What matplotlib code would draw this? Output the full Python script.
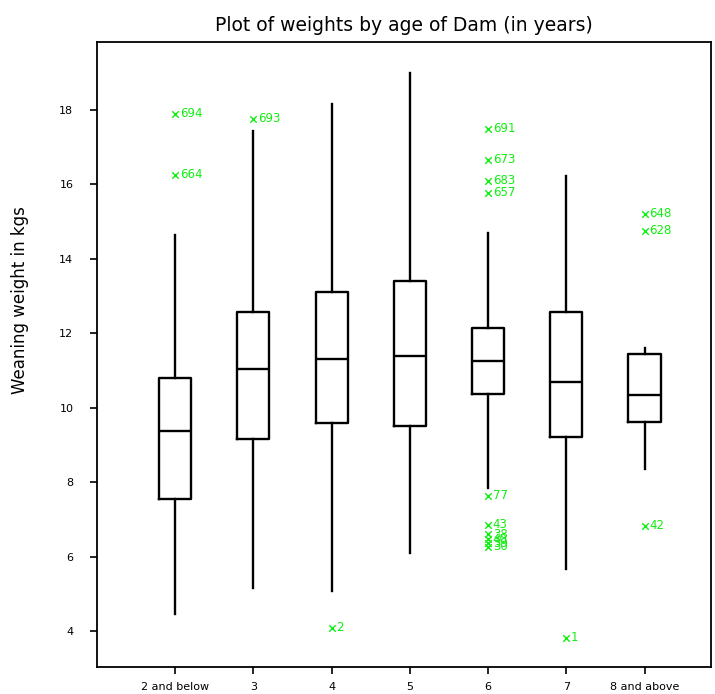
import matplotlib
matplotlib.use("Agg")
import matplotlib.pyplot as plt

# age of dam groups
groups = ["2 and below", "3", "4", "5", "6", "7", "8 and above"]

# box stats (kg)
whislo = [4.46, 5.16, 5.08, 6.10, 7.85, 5.67, 8.36]
q1 = [7.55, 9.17, 9.58, 9.52, 10.38, 9.22, 9.62]
med = [9.38, 11.05, 11.30, 11.40, 11.26, 10.70, 10.35]
q3 = [10.81, 12.58, 13.10, 13.41, 12.15, 12.56, 11.45]
whishi = [14.65, 17.45, 18.17, 19.00, 14.70, 16.24, 11.61]

# labelled outliers: group index, value, observation id
out_group = [1, 1, 2, 3, 5, 5, 5, 5, 5, 5, 5, 5, 5, 5, 6, 7, 7, 7]
out_value = [17.90, 16.26, 17.77, 4.09, 17.50, 16.67, 16.10, 15.78, 7.63,
             6.85, 6.60, 6.46, 6.36, 6.26, 3.82, 15.22, 14.76, 6.83]
out_label = ["694", "664", "693", "2", "691", "673", "683", "657", "77",
             "43", "38", "40", "39", "30", "1", "648", "628", "42"]

stats = []
for i in range(len(groups)):
    stats.append({"whislo": whislo[i], "q1": q1[i], "med": med[i],
                  "q3": q3[i], "whishi": whishi[i], "fliers": []})

fig = plt.figure(figsize=(7.15, 6.94), dpi=100)
ax = fig.add_axes([97/715, 1 - 667/694, (711-97)/715, (667-42)/694])

black = dict(color="black", linewidth=1.7)
ax.bxp(stats, positions=range(1, len(groups) + 1), widths=0.41,
       showfliers=False, showcaps=False,
       boxprops=black, medianprops=black, whiskerprops=black)

green = "#11ee11"
ax.scatter(out_group, out_value, marker="x", s=22, color=green, linewidths=1.0, zorder=3)
for g, v, lab in zip(out_group, out_value, out_label):
    ax.text(g + 0.06, v, lab, color=green, fontsize=8.5, va="center", ha="left")

ax.set_xlim(0, 7.85)
ax.set_ylim(3.03, 19.83)
ax.set_xticks(range(1, len(groups) + 1))
ax.set_xticklabels(groups, fontsize=8)
ax.set_yticks([4, 6, 8, 10, 12, 14, 16, 18])
ax.set_yticklabels(["4", "6", "8", "10", "12", "14", "16", "18"], fontsize=8)
ax.tick_params(direction="out", length=5, width=1.2)
ax.tick_params(axis="y", pad=12)
ax.tick_params(axis="x", pad=6)
for sp in ax.spines.values():
    sp.set_linewidth(1.3)

ax.set_ylabel("Weaning weight in kgs", fontsize=12)
ax.yaxis.set_label_coords(-0.11, 0.587)
ax.set_title("Plot of weights by age of Dam (in years)", fontsize=13.5, pad=8)

fig.savefig("out.png", dpi=100)
